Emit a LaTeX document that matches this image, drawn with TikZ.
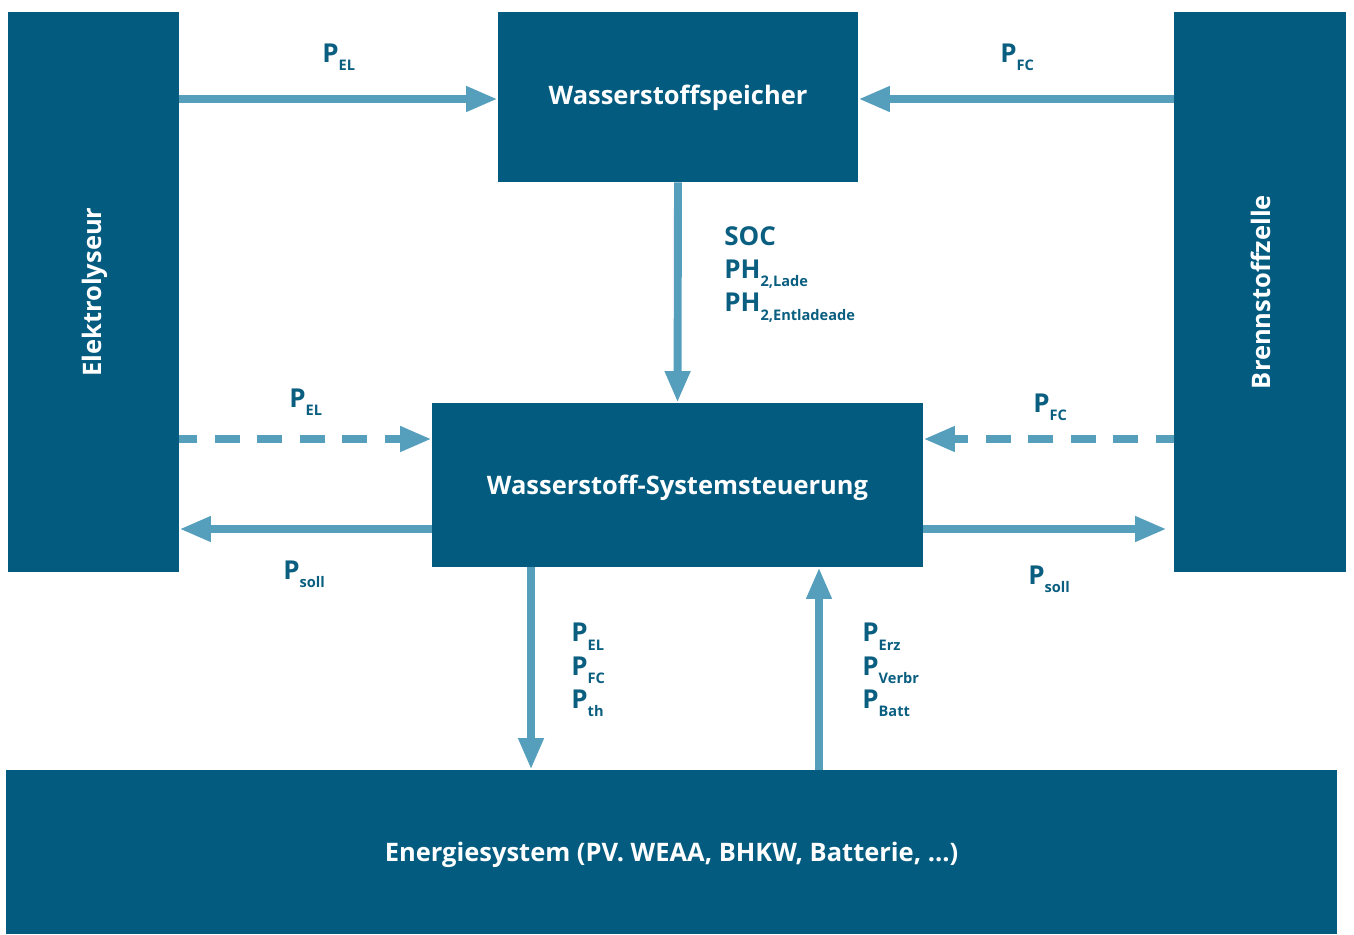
\documentclass[tikz,border=0pt]{standalone}
\usepackage{fontspec}
\setmainfont{Open Sans}
\usetikzlibrary{arrows.meta, calc}

\definecolor{boxblue}{HTML}{035B7F}
\definecolor{flowblue}{HTML}{559FBD}
\definecolor{txtblue}{HTML}{0A5E80}

\newcommand{\pwr}[2]{#1\raisebox{-4.6pt}{\fontsize{8.3}{9}\selectfont #2}}

\tikzset{
  box/.style={fill=boxblue, draw=none, inner sep=0pt},
  boxtext/.style={text=white, font=\bfseries\fontsize{14.5}{16}\selectfont, inner sep=0pt},
  flow/.style={draw=flowblue, line width=4.5pt, -{Triangle[length=18pt, width=13.5pt]}},
  dflow/.style={flow, dash pattern=on 14.2pt off 10pt, dash phase=4pt},
  lbl/.style={text=txtblue, font=\bfseries\fontsize{14.8}{19}\selectfont, inner sep=0pt, align=left}
}

\begin{document}
\begin{tikzpicture}[x=0.02cm, y=-0.02cm]
               \useasboundingbox (0,0) rectangle (1354,934);
               % blocks
               \node[box, minimum width=3.42cm, minimum height=11.2cm] (el) at (93.5,292) {};
               \node[box, minimum width=7.2cm, minimum height=3.4cm] (sp) at (678,97) {};
               \node[box, minimum width=3.44cm, minimum height=11.2cm] (fc) at (1260,292) {};
               \node[box, minimum width=9.82cm, minimum height=3.28cm] (st) at (677.5,485) {};
               \node[box, minimum width=26.62cm, minimum height=3.28cm] (es) at (671.5,852) {};
               \node[boxtext, rotate=90] (eltext) at ($(el.center)+(1,0)$) {Elektrolyseur};
               \node[boxtext] (sptext) at ($(sp.center)+(0,1)$) {Wasserstoffspeicher};
               \node[boxtext, rotate=90] (fctext) at ($(fc.center)+(1,0)$) {Brennstoffzelle};
               \node[boxtext] (sttext) at ($(st.center)+(0,3)$) {Wasserstoff-Systemsteuerung};
               \node[boxtext] (estext) at ($(es.center)+(0,3)$) {Energiesystem (PV. WEAA, BHKW, Batterie, ...)};
               % arrows
               \draw[flow] (el.east |- 0,99) -- (sp.west |- 0,99);
               \draw[flow] (fc.west |- 0,99) -- (sp.east |- 0,99);
               \draw[flow] (sp.south) -- (st.north);
               \draw[dflow] (el.east |- 0,439) -- (st.west |- 0,439);
               \draw[dflow] (fc.west |- 0,439) -- (st.east |- 0,439);
               \draw[flow] (st.west |- 0,529) -- (el.east |- 0,529);
               \draw[flow] (st.east |- 0,529) -- ($(fc.west |- 0,529)+(-7,0)$);
               \draw[flow] (st.south -| 531,0) -- (es.north -| 531,0);
               \draw[flow] (es.north -| 819,0) -- (st.south -| 819,0);
               % labels
               \node[lbl, anchor=base west] (pel1) at (322,62) {\pwr{P}{EL}};
               \node[lbl, anchor=base west] (pfc1) at (1000,62) {\pwr{P}{FC}};
               \node[lbl, anchor=north west] (soc) at (724,226) {SOC\\\pwr{PH}{2,Lade}\\\pwr{PH}{2,Entladeade}};
               \node[lbl, anchor=base west] (pel2) at (289,407) {\pwr{P}{EL}};
               \node[lbl, anchor=base west] (pfc2) at (1033,412) {\pwr{P}{FC}};
               \node[lbl, anchor=base west] (psoll1) at (283,579) {\pwr{P}{soll}};
               \node[lbl, anchor=base west] (psoll2) at (1028,584) {\pwr{P}{soll}};
               \node[lbl, anchor=north west] (pdown) at (571,623) {\pwr{P}{EL}\\\pwr{P}{FC}\\\pwr{P}{th}};
               \node[lbl, anchor=north west] (pup) at (862,623) {\pwr{P}{Erz}\\\pwr{P}{Verbr}\\\pwr{P}{Batt}};
\end{tikzpicture}
\end{document}
